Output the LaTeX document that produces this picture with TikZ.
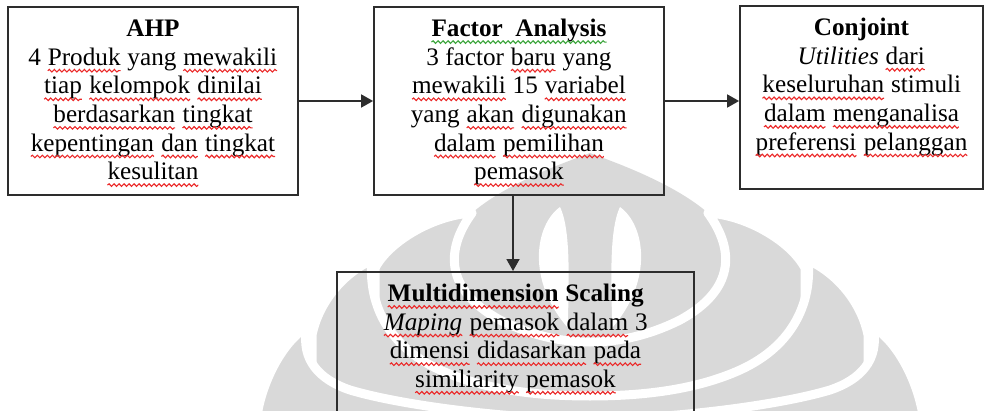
\documentclass[tikz,border=0pt]{standalone}
\usepackage{fontspec}
\setmainfont{Liberation Serif}
\usetikzlibrary{arrows.meta,decorations.pathmorphing}

\definecolor{wm}{RGB}{217,217,217}
\definecolor{wavered}{RGB}{235,40,40}
\definecolor{wavegreen}{RGB}{60,165,60}
\definecolor{edge}{RGB}{45,45,45}

% a word with a wavy line under it
\newcommand\wavy[2]{\tikz[baseline=(w.base)]{%
  \node[draw=none, fill=none, inner sep=0pt, outer sep=0pt, anchor=base, text=black] (w) {#2};
  \draw[#1, line width=0.55pt, decorate, decoration={snake, amplitude=0.65pt, segment length=2.5pt}]
    ([yshift=-2.7pt]w.base west) -- ([yshift=-2.7pt]w.base east);}}
\newcommand\rw[1]{\wavy{wavered}{#1}}
\newcommand\gw[1]{\wavy{wavegreen}{#1}}

% top-aligned centred text block of a given width and height
\newcommand\boxtext[3]{\parbox[c][#2][t]{#1}{\fontsize{12.6pt}{14.3pt}\selectfont\centering\rule{0pt}{14.85pt}#3}}

\tikzset{
  box/.style={draw=edge, line width=0.9pt, inner sep=0pt},
  flow/.style={draw=edge, line width=0.9pt, -{Triangle[length=6pt,width=6.5pt]}},
  petal/.style={fill=wm, draw=white, line width=4.5pt, line join=round}
}

\begin{document}
\begin{tikzpicture}[x=0.5pt, y=-0.5pt]
\useasboundingbox (0,0) rectangle (984,411);
\clip (0,0) rectangle (984,411);

% faint emblem in the background
\begin{scope}[shift={(590,0)}]
  % central dome
  \fill[wm] (0,153) .. controls (12,158) and (80,180) .. (118,213)
    -- (160,260) -- (150,345) -- (0,365) -- (-150,345) -- (-160,260)
    -- (-118,213) .. controls (-80,180) and (-12,158) .. (0,153) -- cycle;
  % two white crescents inside the dome
  \fill[white] (-30,207) .. controls (-55,225) and (-64,280) .. (-22,328)
    .. controls (-22,290) and (-18,232) .. (-30,207) -- cycle;
  \fill[white] (30,207) .. controls (55,225) and (64,280) .. (22,328)
    .. controls (22,290) and (18,232) .. (30,207) -- cycle;
  % first layer
  \path[petal] (118,213) .. controls (155,215) and (200,240) .. (215,268)
    -- (215,480) -- (-215,480) -- (-215,268)
    .. controls (-200,240) and (-155,215) .. (-118,213)
    .. controls (-145,250) and (-145,290) .. (-90,320)
    .. controls (-60,335) and (-30,342) .. (0,342)
    .. controls (30,342) and (60,335) .. (90,320)
    .. controls (145,290) and (145,250) .. (118,213) -- cycle;
  % second layer
  \path[petal] (218,260) .. controls (250,275) and (272,305) .. (278,335)
    -- (278,480) -- (-278,480) -- (-278,335)
    .. controls (-272,305) and (-250,275) .. (-218,260)
    .. controls (-222,300) and (-205,345) .. (-150,370)
    .. controls (-110,388) and (-60,396) .. (0,396)
    .. controls (60,396) and (110,388) .. (150,370)
    .. controls (205,345) and (222,300) .. (218,260) -- cycle;
  % third layer
  \path[petal] (283,327) .. controls (305,340) and (325,375) .. (332,410)
    -- (332,480) -- (-332,480) -- (-332,410)
    .. controls (-325,375) and (-305,340) .. (-283,327)
    .. controls (-290,360) and (-270,380) .. (-240,390)
    .. controls (-190,405) and (-90,418) .. (0,420)
    .. controls (90,418) and (190,405) .. (240,390)
    .. controls (270,380) and (290,360) .. (283,327) -- cycle;
  % fourth layer
  \path[petal] (337,403) .. controls (350,410) and (360,430) .. (365,480)
    -- (-365,480) .. controls (-360,430) and (-350,410) .. (-337,403)
    .. controls (-335,430) and (-320,450) .. (-280,470)
    -- (280,470) .. controls (320,450) and (335,430) .. (337,403) -- cycle;
\end{scope}

% process boxes
\node[box] (ahp) at (153,101) {\boxtext{145pt}{94pt}{%
  \textbf{AHP}\\
  4 \rw{Produk} yang \rw{mewakili}\\
  \rw{tiap} \rw{kelompok} \rw{dinilai}\\
  \rw{berdasarkan} \rw{tingkat}\\
  \rw{kepentingan} \rw{dan} \rw{tingkat}\\
  \rw{kesulitan}}};

\node[box] (fa) at (519,101) {\boxtext{145pt}{94pt}{%
  \gw{\textbf{Factor\ \ Analysis}}\\
  3 factor \rw{baru} yang\\
  \rw{mewakili} 15 \rw{variabel}\\
  yang \rw{akan} \rw{digunakan}\\
  \rw{dalam} \rw{pemilihan}\\
  \rw{pemasok}}};

\node[box] (cj) at (861.5,97.5) {\boxtext{121.5pt}{91.5pt}{%
  \textbf{Conjoint}\\
  \textit{Utilities} \rw{dari}\\
  \rw{keseluruhan} stimuli\\
  \rw{dalam} \rw{menganalisa}\\
  \rw{preferensi} \rw{pelanggan}}};

\node[box, anchor=north] (mds) at (515.5,271) {\boxtext{178.5pt}{100pt}{%
  \rw{\textbf{Multidimension}} \textbf{Scaling}\\
  \rw{\textit{Maping}} \rw{pemasok} \rw{dalam} 3\\
  \rw{dimensi} \rw{didasarkan} \rw{pada}\\
  \rw{similiarity} \rw{pemasok}}};

% connectors
\draw[flow] (ahp.east) -- (fa.west);
\draw[flow] (fa.east) -- (fa.east -| cj.west);
\draw[flow] ([xshift=-3pt]fa.south) -- ([xshift=-3pt]fa.south |- mds.north);
\end{tikzpicture}
\end{document}
